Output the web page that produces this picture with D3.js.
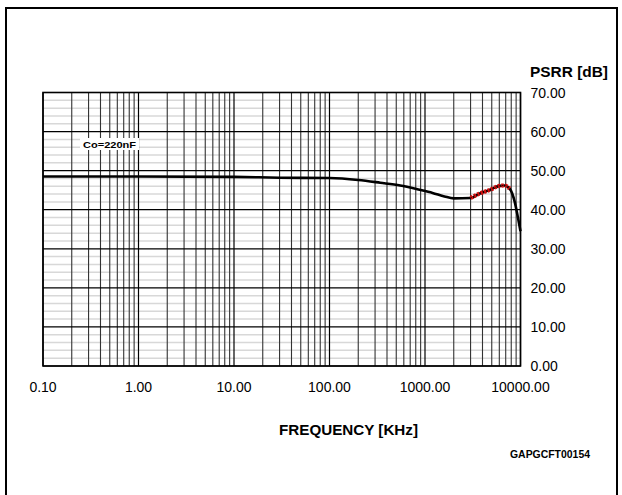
<!DOCTYPE html>
<html><head><meta charset="utf-8">
<script src="https://cdn.jsdelivr.net/npm/d3@7"></script>
<style>html,body{margin:0;padding:0;background:#fff}svg{display:block}text{font-family:"Liberation Sans",Arial,sans-serif}</style>
</head><body>
<svg id="c" width="622" height="495"></svg>
<script>
const freq = [0.1, 1, 10, 30, 100, 200, 340, 550, 880, 1200, 1600, 2000, 3000, 3700, 4800, 6000, 6800, 7700, 8700, 9400, 10000];
const psrr = [48.5, 48.5, 48.4, 48.2, 48.1, 47.6, 46.9, 46.2, 45.1, 44.3, 43.4, 42.9, 43.0, 44.1, 45.1, 46.1, 46.2, 45.4, 42.0, 38.0, 34.5];
const redFreq = [3000, 3700, 4800, 6000, 6800, 7700];
const redPsrr = [43.0, 44.1, 45.1, 46.1, 46.2, 45.4];
const xTicks = [0.1, 1, 10, 100, 1000, 10000];
const xTickLabels = ["0.10", "1.00", "10.00", "100.00", "1000.00", "10000.00"];
const yTicks = [0, 10, 20, 30, 40, 50, 60, 70];
const yTickLabels = ["0.00", "10.00", "20.00", "30.00", "40.00", "50.00", "60.00", "70.00"];

const svg = d3.select("#c");
const L = 43, R = 520.5, T = 92.5, B = 366;
const x = d3.scaleLog().domain([0.1, 10000]).range([L, R]);
const y = d3.scaleLinear().domain([0, 70]).range([B, T]);

// outer border
svg.append("rect").attr("x", 6).attr("y", 8).attr("width", 611).attr("height", 500)
  .attr("fill", "none").attr("stroke", "#000").attr("stroke-width", 2);

const g = svg.append("g");
// minor horizontal grid
const minorY = d3.range(0, 71, 2).filter(v => v % 10 !== 0);
g.selectAll(".hm").data(minorY).enter().append("line")
  .attr("x1", L).attr("x2", R).attr("y1", d => y(d)).attr("y2", d => y(d))
  .attr("stroke", "#d8d8d8").attr("stroke-width", 1.5);
// vertical grid
const minorX = [];
for (let e = -1; e < 4; e++) for (let m = 2; m <= 9; m++) minorX.push(m * Math.pow(10, e));
g.selectAll(".vm").data(minorX).enter().append("line")
  .attr("x1", d => x(d)).attr("x2", d => x(d)).attr("y1", T).attr("y2", B)
  .attr("stroke", "#333").attr("stroke-width", 1.1);
g.selectAll(".vM").data(xTicks).enter().append("line")
  .attr("x1", d => x(d)).attr("x2", d => x(d)).attr("y1", T).attr("y2", B)
  .attr("stroke", "#000").attr("stroke-width", 1.2);
// major horizontal grid
g.selectAll(".hM").data(yTicks).enter().append("line")
  .attr("x1", L).attr("x2", R).attr("y1", d => y(d)).attr("y2", d => y(d))
  .attr("stroke", "#000").attr("stroke-width", 1.2);
// frame
g.append("rect").attr("x", L).attr("y", T).attr("width", R - L).attr("height", B - T)
  .attr("fill", "none").attr("stroke", "#000").attr("stroke-width", 1.6);

// label box
svg.append("rect").attr("x", 80).attr("y", 138).attr("width", 59).attr("height", 12).attr("fill", "#fff");
svg.append("text").attr("x", 83).attr("y", 148).attr("font-size", 9.5).attr("font-weight", "bold")
  .attr("textLength", 53).attr("lengthAdjust", "spacingAndGlyphs").text("Co=220nF");

// curve
const line = d3.line().x(d => x(d[0])).y(d => y(d[1])).curve(d3.curveMonotoneX);
svg.append("path").datum(freq.map((f, i) => [f, psrr[i]])).attr("d", line)
  .attr("fill", "none").attr("stroke", "#000").attr("stroke-width", 2.6);
svg.append("path").datum(redFreq.map((f, i) => [f, redPsrr[i]])).attr("d", line)
  .attr("fill", "none").attr("stroke", "#d01010").attr("stroke-width", 4.2).attr("stroke-dasharray", "2.5,1.2");
svg.append("path").datum(redFreq.map((f, i) => [f, redPsrr[i]])).attr("d", line)
  .attr("fill", "none").attr("stroke", "#000").attr("stroke-width", 0.9).attr("stroke-dasharray", "1.2,2.2");

// axes labels
svg.selectAll(".xl").data(xTicks).enter().append("text")
  .attr("x", d => x(d)).attr("y", 392).attr("text-anchor", "middle").attr("font-size", 14)
  .text((d, i) => xTickLabels[i]);
svg.selectAll(".yl").data(yTicks).enter().append("text")
  .attr("x", 530.5).attr("y", d => y(d) + 5).attr("font-size", 14)
  .text((d, i) => yTickLabels[i]);

svg.append("text").attr("x", 530).attr("y", 77).attr("font-size", 15).attr("font-weight", "bold")
  .attr("textLength", 78).attr("lengthAdjust", "spacingAndGlyphs").text("PSRR [dB]");
svg.append("text").attr("x", 279).attr("y", 435).attr("font-size", 15).attr("font-weight", "bold")
  .attr("textLength", 139).attr("lengthAdjust", "spacingAndGlyphs").text("FREQUENCY [KHz]");
svg.append("text").attr("x", 510).attr("y", 458).attr("font-size", 10.5).attr("font-weight", "bold")
  .attr("textLength", 80).attr("lengthAdjust", "spacingAndGlyphs").text("GAPGCFT00154");
</script>
</body></html>
